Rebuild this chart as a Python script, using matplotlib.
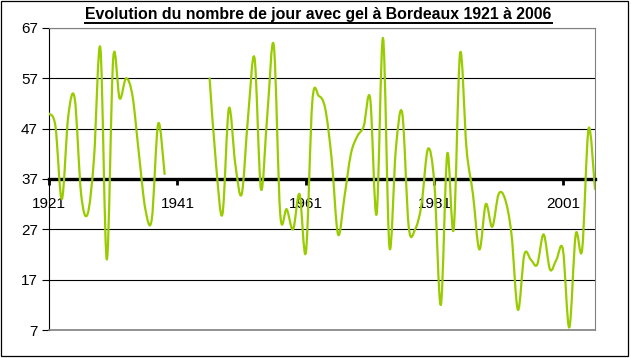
import numpy as np
import matplotlib
matplotlib.use("Agg")
import matplotlib.pyplot as plt
from matplotlib.path import Path
from matplotlib.patches import PathPatch, Rectangle
from matplotlib.lines import Line2D

# ---------------- data ----------------
years = list(range(1921, 2007))
frost_days = [
    50, 47.5, 33, 49.5, 53, 34, 30, 41, 63, 21,          # 1921-1930
    61, 53, 57, 53.5, 42, 31, 29, 48, 38, None,          # 1931-1940
    None, None, None, None, None, 57, 40, 30, 51, 40,    # 1941-1950
    34, 49.5, 61, 35, 50, 63.5, 30, 31, 27, 34,          # 1951-1960
    22.5, 52.5, 53.5, 51, 41, 26, 33.5, 42, 45.5, 47.5,  # 1961-1970
    53, 30, 65, 23.5, 43, 50, 27.5, 27, 32, 43,          # 1971-1980
    36, 12, 42, 27, 62, 43, 34, 23, 32, 27.5,            # 1981-1990
    34, 33, 26, 11, 22, 21, 20, 26, 19, 21,              # 1991-2000
    23, 7.5, 26, 23, 47, 35,                             # 2001-2006
]
x_tick_years = [1921, 1941, 1961, 1981, 2001]
x_tick_labels = ["1921", "1941", "1961", "1981", "2001"]
y_ticks = [7, 17, 27, 37, 47, 57, 67]
y_tick_labels = ["7", "17", "27", "37", "47", "57", "67"]
axis_cross = 37
title = "Evolution du nombre de jour avec gel à Bordeaux 1921 à 2006"

# ---------------- figure ----------------
W, H = 631, 358
fig = plt.figure(figsize=(W / 100, H / 100), dpi=100)
fig.patch.set_facecolor("white")
plt.rcParams["font.family"] = ["Liberation Sans", "DejaVu Sans"]

L, R, T, B = 49, 595, 28, 330
ax = fig.add_axes([L / W, 1 - B / H, (R - L) / W, (B - T) / H])
ax.set_facecolor("white")
ax.set_xlim(years[0], years[-1])
ax.set_ylim(y_ticks[0], y_ticks[-1])

# gridlines
ax.set_yticks(y_ticks)
ax.set_yticklabels(y_tick_labels, fontsize=11)
ax.yaxis.grid(True, color="black", linewidth=0.8)
ax.set_axisbelow(True)
ax.tick_params(axis="y", direction="out", length=5, width=0.8, pad=3, colors="black")

# spines
for s in ("top", "right"):
    ax.spines[s].set_color("#808080")
    ax.spines[s].set_linewidth(0.8)
ax.spines["left"].set_color("black")
ax.spines["left"].set_linewidth(0.8)
ax.spines["bottom"].set_position(("data", axis_cross))
ax.spines["bottom"].set_color("black")
ax.spines["bottom"].set_linewidth(2.4)
ax.spines["bottom"].set_zorder(3)
ax.axhline(y_ticks[0], color="#808080", linewidth=1.2, clip_on=False, zorder=3)

ax.set_xticks(x_tick_years)
ax.set_xticklabels(x_tick_labels, fontsize=11)
ax.tick_params(axis="x", direction="out", length=4, width=2, pad=9, colors="black")

# smoothed line (Excel-style cubic Bezier) drawn from the data via a Path
def bezier_path(xs, ys):
    pts = np.column_stack([xs, ys]).astype(float)
    n = len(pts)
    verts = [pts[0]]
    codes = [Path.MOVETO]
    for i in range(n - 1):
        p_prev = pts[i - 1] if i > 0 else pts[i]
        p0, p1 = pts[i], pts[i + 1]
        p_next = pts[i + 2] if i + 2 < n else pts[i + 1]
        c1 = p0 + (p1 - p_prev) / 6.0
        c2 = p1 - (p_next - p0) / 6.0
        verts += [c1, c2, p1]
        codes += [Path.CURVE4] * 3
    return Path(verts, codes)

seg_x, seg_y = [], []
segments = []
for yr, v in zip(years, frost_days):
    if v is None:
        if seg_x:
            segments.append((seg_x, seg_y))
        seg_x, seg_y = [], []
    else:
        seg_x.append(yr)
        seg_y.append(v)
if seg_x:
    segments.append((seg_x, seg_y))

for sx, sy in segments:
    patch = PathPatch(bezier_path(sx, sy), facecolor="none", edgecolor="#99CC00",
                      linewidth=1.6, transform=ax.transData, zorder=5,
                      capstyle="round", joinstyle="round")
    ax.add_patch(patch)

# title with underline
t = fig.text(318.5 / W, 1 - 14.5 / H, title, ha="center", va="center",
             fontsize=11.4, fontweight="bold")
fig.canvas.draw()
bb = t.get_window_extent(renderer=fig.canvas.get_renderer())
uy = 1 - 22.5 / H
fig.add_artist(Line2D([bb.x0 / W, bb.x1 / W], [uy, uy], transform=fig.transFigure,
                      color="black", linewidth=1.4))

# chart border
fig.add_artist(Rectangle((0.5 / W, 1 - 355.5 / H), 627 / W, 355 / H,
                         transform=fig.transFigure, fill=False,
                         edgecolor="black", linewidth=0.9))

fig.savefig("out.png", dpi=100)
